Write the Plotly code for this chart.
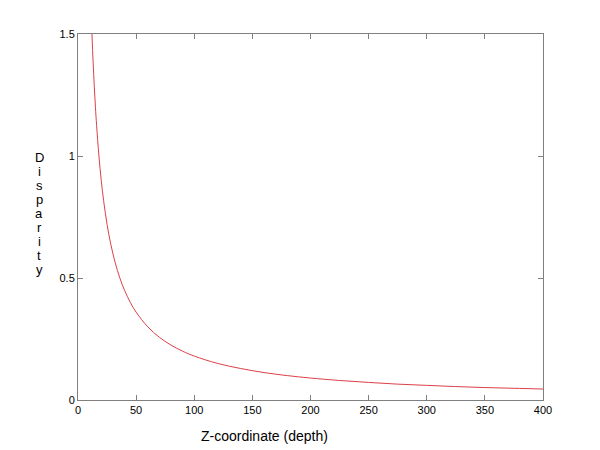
import plotly.graph_objects as go

# Values
depth = [12, 13, 14, 15, 16, 18, 20, 22, 25, 28, 32, 36, 40, 45, 50, 60, 70, 80, 90,
         100, 120, 140, 160, 180, 200, 225, 250, 275, 300, 325, 350, 375, 400]
disparity = [1.50, 1.385, 1.286, 1.20, 1.125, 1.00, 0.90, 0.818, 0.72, 0.643, 0.5625,
             0.50, 0.45, 0.40, 0.36, 0.30, 0.257, 0.225, 0.20, 0.18, 0.15, 0.129,
             0.1125, 0.10, 0.09, 0.08, 0.072, 0.065, 0.06, 0.055, 0.051, 0.048, 0.045]

x_ticks = [0, 50, 100, 150, 200, 250, 300, 350, 400]
y_ticks = [0, 0.5, 1, 1.5]
y_tick_labels = ["0", "0.5", "1", "1.5"]
x_title = "Z-coordinate (depth)"
y_title = "Disparity"

fig = go.Figure()
fig.add_trace(go.Scatter(x=depth, y=disparity, mode="lines", line_shape="spline",
                         line=dict(color="#dc4048", width=1), showlegend=False,
                         hoverinfo="skip"))

axis_common = dict(showline=True, linecolor="#808080", linewidth=1, mirror="ticks",
                   ticks="inside", ticklen=5, tickcolor="#808080", tickwidth=1,
                   showgrid=False, zeroline=False,
                   tickfont=dict(family="Liberation Sans, Arial", size=11, color="black"))

fig.update_xaxes(range=[0, 400], tickvals=x_ticks, **axis_common)
fig.update_yaxes(range=[0, 1.5], tickvals=y_ticks, ticktext=y_tick_labels, **axis_common)

# page has an 8px body margin; plot area targets page pixels x 78..543, y 34..400
PW, PH = 465, 366
annotations = [dict(text=x_title, xref="paper", yref="paper", x=(264 - 78) / PW,
                    y=(400 - 436) / PH,
                    showarrow=False, xanchor="center", yanchor="middle",
                    font=dict(family="Liberation Sans, Arial", size=14, color="black"))]

# Vertically stacked y-axis title letters
top_px, step_px = 157, 14.1
for i, ch in enumerate(y_title):
    ypx = top_px + i * step_px
    annotations.append(dict(text=ch, xref="paper", yref="paper",
                            x=(39 - 78) / PW, y=(400 - ypx) / PH,
                            showarrow=False, xanchor="center", yanchor="middle",
                            font=dict(family="Liberation Sans, Arial", size=13, color="black")))

fig.update_layout(width=592, height=442, margin=dict(l=70, r=57, t=26, b=50),
                  plot_bgcolor="white", paper_bgcolor="white",
                  annotations=annotations)

fig.write_html("out.html")
